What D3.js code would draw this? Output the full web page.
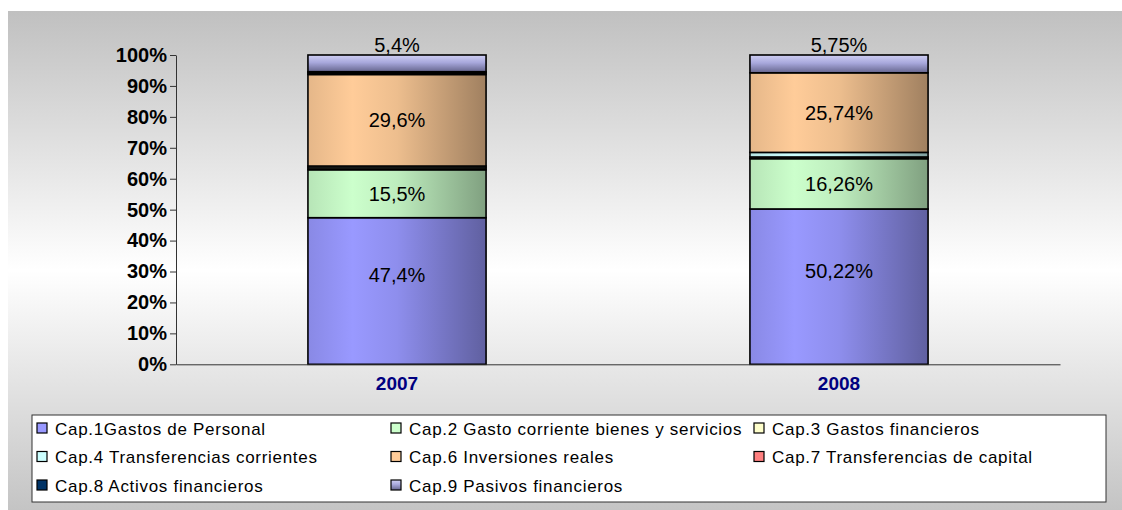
<!DOCTYPE html>
<html>
<head>
<meta charset="utf-8">
<script src="https://cdn.jsdelivr.net/npm/d3@7"></script>
<style>
  body { margin: 0; background: #fff; }
  svg { display: block; font-family: "Liberation Sans", Arial, sans-serif; }
</style>
</head>
<body>
<div id="chart"></div>
<script>
// data
var years = ["2007", "2008"];
var seriesNames = [
  "Cap.1Gastos de Personal",
  "Cap.2 Gasto corriente bienes y servicios",
  "Cap.3 Gastos financieros",
  "Cap.4 Transferencias corrientes",
  "Cap.6 Inversiones reales",
  "Cap.7 Transferencias de capital",
  "Cap.8  Activos financieros",
  "Cap.9 Pasivos financieros"
];
var cap1 = [47.4, 50.22];
var cap2 = [15.5, 16.26];
var cap3 = [0.6, 0.55];
var cap4 = [0.6, 1.48];
var cap6 = [29.6, 25.74];
var cap7 = [0.5, 0];
var cap8 = [0.4, 0];
var cap9 = [5.4, 5.75];
var seriesValues = [cap1, cap2, cap3, cap4, cap6, cap7, cap8, cap9];
// text shown on the bars (null = no label)
var barLabels = [
  ["47,4%", "50,22%"],
  ["15,5%", "16,26%"],
  null, null,
  ["29,6%", "25,74%"],
  null, null,
  ["5,4%", "5,75%"]
];
var yTicks = [0, 10, 20, 30, 40, 50, 60, 70, 80, 90, 100];

var colors = ["#9999ff", "#ccffcc", "#ffffcc", "#ccffff", "#ffcc99", "#ff8080", "#003366", "#9999cc"];

var svgWidth = 1122, svgHeight = 510;

var svg = d3.select("#chart").append("svg")
  .attr("width", svgWidth)
  .attr("height", svgHeight);

var defs = svg.append("defs");

// background gradient
var bg = defs.append("linearGradient").attr("id", "bg")
  .attr("x1", 0).attr("y1", 0).attr("x2", 0).attr("y2", 1);
bg.append("stop").attr("offset", "0%").attr("stop-color", "#c0c0c0");
bg.append("stop").attr("offset", "52%").attr("stop-color", "#ffffff");
bg.append("stop").attr("offset", "100%").attr("stop-color", "#c4c4c4");

svg.append("rect")
  .attr("x", 8).attr("y", 11)
  .attr("width", svgWidth - 8).attr("height", svgHeight - 11)
  .attr("fill", "url(#bg)");

// gradients for bars
colors.forEach(function(c, i) {
  var base = d3.rgb(c);
  var g;
  if (i === 7) {
    g = defs.append("linearGradient").attr("id", "grad" + i)
      .attr("x1", 0).attr("y1", 0).attr("x2", 0).attr("y2", 1);
    g.append("stop").attr("offset", "0%").attr("stop-color", "#d0d0f4");
    g.append("stop").attr("offset", "45%").attr("stop-color", "#a8a8dc");
    g.append("stop").attr("offset", "100%").attr("stop-color", "#66668e");
  } else {
    g = defs.append("linearGradient").attr("id", "grad" + i)
      .attr("x1", 0).attr("y1", 0).attr("x2", 1).attr("y2", 0);
    g.append("stop").attr("offset", "0%").attr("stop-color", base.darker(0.3));
    g.append("stop").attr("offset", "25%").attr("stop-color", base);
    g.append("stop").attr("offset", "50%").attr("stop-color", base.darker(0.2));
    g.append("stop").attr("offset", "100%").attr("stop-color", base.darker(1.3));
  }
});

// table for the stack
var table = years.map(function(y, j) {
  var row = { year: y };
  seriesNames.forEach(function(s, i) { row[s] = seriesValues[i][j]; });
  return row;
});

var stacked = d3.stack().keys(seriesNames)(table);

var x = d3.scaleBand()
  .domain(years)
  .range([176, 1060])
  .paddingInner(0.597)
  .paddingOuter(0.2985);

var y = d3.scaleLinear()
  .domain([0, 100])
  .range([364.3, 55]);

// y axis
var yAxis = svg.append("g")
  .attr("transform", "translate(176,0)")
  .call(d3.axisLeft(y).tickValues(yTicks).tickFormat(function(d) { return d + "%"; })
    .tickSize(6).tickSizeOuter(0).tickPadding(3));
yAxis.selectAll("text")
  .attr("font-size", "20px")
  .attr("font-weight", "bold")
  .attr("font-family", "'Liberation Sans', Arial, sans-serif")
  .attr("fill", "#000");
yAxis.selectAll("line, path").attr("stroke", "#333");

// bars
var layer = svg.append("g").selectAll("g")
  .data(stacked)
  .enter().append("g")
  .attr("fill", function(d, i) { return "url(#grad" + i + ")"; });

layer.selectAll("rect")
  .data(function(d) { return d; })
  .enter().append("rect")
  .attr("x", function(d) { return x(d.data.year); })
  .attr("y", function(d) { return y(d[1]); })
  .attr("width", x.bandwidth())
  .attr("height", function(d) { return y(d[0]) - y(d[1]); })
  .attr("stroke", "#000")
  .attr("stroke-width", 1.6)
  .attr("display", function(d) { return d[1] - d[0] > 0 ? null : "none"; });

// x axis
var xAxis = svg.append("g")
  .attr("transform", "translate(0,364.3)")
  .call(d3.axisBottom(x).tickSize(0).tickPadding(12).tickSizeOuter(0));
xAxis.select("path").attr("stroke", "#333");
xAxis.selectAll("text")
  .attr("font-size", "19px")
  .attr("font-weight", "bold")
  .attr("font-family", "'Liberation Sans', Arial, sans-serif")
  .attr("fill", "#000080");

// labels on bars
stacked.forEach(function(s, i) {
  if (!barLabels[i]) return;
  svg.append("g").selectAll("text")
    .data(s)
    .enter().append("text")
    .attr("x", function(d) { return x(d.data.year) + x.bandwidth() / 2; })
    .attr("y", function(d) {
      if (i === 7) return y(d[1]) - 3;
      var mid = (y(d[0]) + y(d[1])) / 2 + 7;
      return i === 0 ? mid - 16 : mid;
    })
    .attr("text-anchor", "middle")
    .attr("font-size", "20px")
    .attr("fill", "#000")
    .text(function(d, j) { return barLabels[i][j]; });
});

// legend
var legend = svg.append("g");
legend.append("rect")
  .attr("x", 32).attr("y", 415)
  .attr("width", 1074).attr("height", 87)
  .attr("fill", "#fff")
  .attr("stroke", "#333")
  .attr("stroke-width", 1);

var legendCols = [37, 391, 754];
var legendRows = [428.5, 457, 485.5];

seriesNames.forEach(function(name, i) {
  var lx = legendCols[i % 3];
  var ly = legendRows[Math.floor(i / 3)];
  legend.append("rect")
    .attr("x", lx).attr("y", ly - 5.5)
    .attr("width", 10).attr("height", 10)
    .attr("fill", i === 7 ? "url(#grad7)" : colors[i])
    .attr("stroke", "#000")
    .attr("stroke-width", 1.2);
  legend.append("text")
    .attr("x", lx + 18)
    .attr("y", ly + 6)
    .attr("font-size", "17px")
    .attr("letter-spacing", "0.7px")
    .attr("fill", "#000")
    .text(name);
});
</script>
</body>
</html>
